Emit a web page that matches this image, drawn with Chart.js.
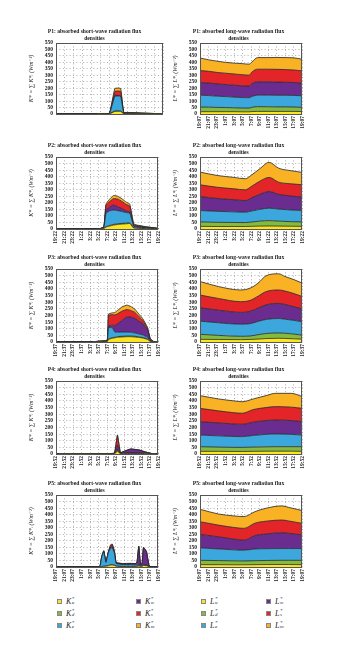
<!DOCTYPE html>
<html>
<head>
<meta charset="utf-8">
<script src="https://cdn.jsdelivr.net/npm/chart.js@4.4.1/dist/chart.umd.min.js"></script>
<style>
  body { margin: 0; background: #fff; width: 339px; height: 660px; position: relative; overflow: hidden; font-family: "Liberation Serif", serif; }
  canvas.panel { position: absolute; }
  .item { position: absolute; height: 10px; display: flex; align-items: center; font-size: 8px; color: #222; white-space: nowrap; }
  .swatch { width: 3px; height: 3px; border: 1px solid #888; margin-right: 4px; }
  .item i { font-style: italic; }
  .ss { display: inline-flex; flex-direction: column; font-size: 5px; line-height: 4.5px; margin-left: 0.5px; font-style: italic; }
</style>
</head>
<body>
<script>
// tick labels: every two hours over one day, minutes differ per profile
const tickHours = [19, 21, 23, 1, 3, 5, 7, 9, 11, 13, 15, 17, 19];
const rowMinutes = ["07", "22", "37", "52", "07"];

// layer order from bottom: u, d, e, w, s, m
const layerKeys = ["u", "d", "e", "w", "s", "m"];
const layerColors = ["#fbe422", "#84bb3e", "#3ca7dd", "#6a2c8e", "#e3252a", "#f8b224"];

// P1 short-wave K* (hours after 19:07)
const p1KHours = [0, 9, 10.5, 12, 13.2, 14.5, 15.2, 16.5, 19, 22, 24];
const p1Ku = [0, 0, 1, 1, 20, 20, 2, 2, 1, 1, 0];
const p1Kd = [0, 0, 0, 1, 3, 3, 1, 1, 1, 0, 0];
const p1Ke = [0, 0, 1, 2, 115, 113, 4, 3, 2, 1, 0];
const p1Kw = [0, 0, 1, 1, 5, 5, 3, 3, 2, 1, 0];
const p1Ks = [0, 0, 1, 1, 32, 34, 1, 1, 1, 1, 0];
const p1Km = [0, 0, 0, 0, 23, 23, 1, 1, 1, 0, 0];

// P2 short-wave K*
const p2KHours = [0, 9.8, 11.2, 11.7, 12.5, 13.5, 14.5, 15.5, 16.5, 17.3, 18.2, 19, 21, 24];
const p2Ku = [0, 0, 3, 15, 22, 30, 35, 38, 40, 42, 8, 5, 3, 1];
const p2Kd = [0, 0, 2, 3, 4, 5, 5, 5, 5, 5, 3, 3, 2, 0];
const p2Ke = [0, 0, 6, 100, 112, 110, 100, 90, 80, 75, 10, 8, 5, 2];
const p2Kw = [0, 0, 1, 26, 30, 38, 30, 22, 12, 8, 5, 4, 3, 1];
const p2Ks = [0, 0, 1, 35, 40, 50, 58, 55, 50, 45, 8, 6, 3, 1];
const p2Km = [0, 0, 2, 10, 17, 23, 22, 20, 18, 15, 6, 4, 2, 0];

// P3 short-wave K*
const p3KHours = [0, 8.4, 10, 12, 12.3, 13.2, 13.8, 14.5, 15.5, 16.6, 17.5, 18.5, 19.5, 20.3, 21.4, 22.1, 22.8, 24];
const p3Ku = [0, 0, 1, 2, 20, 28, 32, 36, 38, 40, 40, 38, 34, 30, 20, 4, 1, 0];
const p3Kd = [0, 0, 1, 1, 3, 4, 4, 5, 5, 5, 5, 5, 4, 4, 3, 1, 0, 0];
const p3Ke = [0, 0, 2, 5, 85, 75, 38, 33, 32, 30, 28, 25, 22, 20, 13, 5, 1, 0];
const p3Kw = [0, 0, 1, 3, 10, 20, 50, 65, 88, 115, 115, 110, 95, 85, 58, 10, 2, 0];
const p3Ks = [0, 0, 1, 2, 82, 80, 80, 75, 70, 55, 50, 45, 35, 25, 12, 3, 1, 0];
const p3Km = [0, 0, 1, 1, 10, 13, 18, 26, 32, 33, 30, 24, 18, 13, 8, 2, 0, 0];

// P4 short-wave K*
const p4KHours = [0, 12, 13.7, 14.4, 15.1, 16, 17.5, 19.5, 21, 22.5, 23.3, 24];
const p4Ku = [0, 1, 2, 20, 2, 3, 4, 4, 3, 1, 0, 0];
const p4Kd = [0, 0, 1, 3, 1, 1, 1, 1, 1, 0, 0, 0];
const p4Ke = [0, 1, 1, 8, 2, 2, 3, 2, 1, 1, 0, 0];
const p4Kw = [0, 1, 2, 35, 4, 14, 28, 22, 9, 1, 0, 0];
const p4Ks = [0, 0, 1, 72, 1, 1, 1, 1, 1, 0, 0, 0];
const p4Km = [0, 0, 0, 5, 0, 0, 1, 0, 0, 0, 0, 0];

// P5 short-wave K*
const p5KHours = [0, 10.2, 10.7, 11.2, 11.7, 12.3, 12.8, 13.2, 13.7, 14.1, 15.5, 17.5, 18.7, 19, 19.4, 19.8, 20.2, 20.5, 21.2, 21.8, 22.5, 24];
const p5Ku = [0, 0, 3, 5, 6, 10, 15, 15, 12, 6, 4, 4, 4, 5, 8, 4, 5, 12, 10, 2, 0, 0];
const p5Kd = [0, 0, 1, 1, 1, 2, 2, 2, 2, 1, 1, 1, 1, 1, 1, 1, 1, 2, 1, 0, 0, 0];
const p5Ke = [0, 0, 70, 110, 28, 100, 128, 130, 90, 20, 14, 14, 12, 10, 8, 5, 5, 5, 4, 2, 0, 0];
const p5Kw = [0, 0, 2, 3, 2, 3, 5, 6, 4, 3, 4, 5, 6, 20, 135, 8, 17, 125, 100, 5, 0, 0];
const p5Ks = [0, 0, 2, 4, 2, 4, 15, 17, 10, 4, 3, 3, 3, 3, 6, 1, 1, 4, 3, 1, 0, 0];
const p5Km = [0, 0, 2, 2, 1, 1, 5, 5, 2, 1, 1, 1, 1, 1, 2, 1, 1, 2, 2, 0, 0, 0];

// P1 long-wave L*
const p1LHours = [0, 2, 4, 6, 8, 10, 11.5, 12.2, 13.5, 16, 18, 20, 22, 24];
const p1Lu = [18, 18, 18, 18, 18, 17, 17, 19, 20, 20, 20, 20, 20, 19];
const p1Ld = [36, 35, 33, 32, 30, 29, 29, 33, 37, 36, 35, 35, 34, 32];
const p1Le = [92, 90, 87, 85, 83, 81, 80, 84, 89, 90, 90, 90, 90, 90];
const p1Lw = [98, 97, 95, 93, 92, 91, 90, 100, 103, 103, 102, 101, 100, 98];
const p1Ls = [93, 91, 89, 88, 87, 86, 85, 90, 98, 98, 99, 98, 97, 95];
const p1Lm = [97, 89, 87, 84, 84, 86, 85, 78, 90, 90, 92, 93, 94, 90];

// P2 long-wave L*
const p2LHours = [0, 4, 8, 10.6, 12, 14, 16.2, 18.4, 21.4, 24];
const p2Lu = [20, 19, 19, 19, 20, 22, 23, 22, 21, 20];
const p2Ld = [34, 32, 31, 30, 33, 38, 41, 38, 35, 34];
const p2Le = [87, 84, 81, 79, 84, 90, 95, 92, 89, 87];
const p2Lw = [107, 98, 93, 89, 99, 115, 127, 113, 107, 102];
const p2Ls = [90, 86, 83, 82, 88, 100, 108, 93, 93, 95];
const p2Lm = [97, 90, 87, 85, 86, 95, 115, 107, 100, 94];

// P3 long-wave L*
const p3LHours = [0, 4.3, 9.5, 11.7, 13.6, 15.5, 18.4, 19.9, 22, 24];
const p3Lu = [20, 19, 18, 19, 22, 26, 28, 27, 24, 21];
const p3Ld = [38, 31, 25, 26, 33, 38, 40, 39, 36, 30];
const p3Le = [99, 95, 91, 93, 100, 106, 109, 106, 103, 101];
const p3Lw = [101, 95, 89, 92, 100, 110, 114, 111, 103, 96];
const p3Ls = [96, 88, 81, 83, 90, 100, 101, 101, 99, 94];
const p3Lm = [102, 90, 88, 92, 98, 119, 122, 110, 105, 101];

// P4 long-wave L*
const p4LHours = [0, 4.3, 8, 9.9, 12.5, 15.5, 17.7, 21.4, 24];
const p4Lu = [20, 20, 19, 19, 20, 21, 21, 21, 20];
const p4Ld = [35, 32, 31, 31, 32, 33, 34, 34, 35];
const p4Le = [88, 85, 82, 81, 88, 94, 96, 93, 88];
const p4Lw = [101, 97, 94, 93, 100, 104, 105, 104, 101];
const p4Ls = [100, 91, 85, 83, 95, 98, 101, 101, 100];
const p4Lm = [96, 90, 89, 87, 80, 90, 100, 104, 88];

// P5 long-wave L*
const p5LHours = [0, 4.3, 8, 10.3, 12.9, 15.5, 19.2, 20.7, 24];
const p5Lu = [18, 18, 17, 17, 18, 19, 19, 19, 18];
const p5Ld = [33, 31, 30, 29, 30, 31, 32, 32, 33];
const p5Le = [95, 89, 84, 82, 90, 90, 90, 90, 90];
const p5Lw = [103, 93, 82, 77, 102, 112, 121, 117, 103];
const p5Ls = [97, 89, 89, 90, 95, 98, 97, 94, 89];
const p5Lm = [95, 85, 88, 90, 88, 99, 108, 104, 98];

const yTicks = { min: 0, max: 550, step: 50 };

// panel geometry
const plotTops = [43, 157, 269, 381, 495];
const plotHeights = [71, 72, 73, 73, 72];
const colLeft = [26, 170];
const titleH = 15;
const xAxisH = 18;
const yAxisW = 30;
const panelW = 141;

const FONT = "'Liberation Serif', 'DejaVu Serif', serif";

const panels = [
  { row: 0, col: 0, kind: "short", hours: p1KHours, layers: [p1Ku, p1Kd, p1Ke, p1Kw, p1Ks, p1Km], showX: false },
  { row: 0, col: 1, kind: "long", hours: p1LHours, layers: [p1Lu, p1Ld, p1Le, p1Lw, p1Ls, p1Lm], showX: true },
  { row: 1, col: 0, kind: "short", hours: p2KHours, layers: [p2Ku, p2Kd, p2Ke, p2Kw, p2Ks, p2Km], showX: true },
  { row: 1, col: 1, kind: "long", hours: p2LHours, layers: [p2Lu, p2Ld, p2Le, p2Lw, p2Ls, p2Lm], showX: true },
  { row: 2, col: 0, kind: "short", hours: p3KHours, layers: [p3Ku, p3Kd, p3Ke, p3Kw, p3Ks, p3Km], showX: true },
  { row: 2, col: 1, kind: "long", hours: p3LHours, layers: [p3Lu, p3Ld, p3Le, p3Lw, p3Ls, p3Lm], showX: true },
  { row: 3, col: 0, kind: "short", hours: p4KHours, layers: [p4Ku, p4Kd, p4Ke, p4Kw, p4Ks, p4Km], showX: true },
  { row: 3, col: 1, kind: "long", hours: p4LHours, layers: [p4Lu, p4Ld, p4Le, p4Lw, p4Ls, p4Lm], showX: true },
  { row: 4, col: 0, kind: "short", hours: p5KHours, layers: [p5Ku, p5Kd, p5Ke, p5Kw, p5Ks, p5Km], showX: true },
  { row: 4, col: 1, kind: "long", hours: p5LHours, layers: [p5Lu, p5Ld, p5Le, p5Lw, p5Ls, p5Lm], showX: true },
];

// solid box around the plot area
const framePlugin = {
  id: "frame",
  afterDatasetsDraw(chart) {
    const { ctx, chartArea: a } = chart;
    ctx.save();
    ctx.strokeStyle = "#555";
    ctx.lineWidth = 1;
    ctx.strokeRect(Math.round(a.left) + 0.5, Math.round(a.top) + 0.5,
      Math.round(a.right - a.left) - 1, Math.round(a.bottom - a.top));
    ctx.restore();
  },
};

const buildPanel = (p) => {
  const canvas = document.createElement("canvas");
  canvas.className = "panel";
  const h = titleH + plotHeights[p.row] + xAxisH;
  canvas.width = panelW;
  canvas.height = h;
  canvas.style.left = colLeft[p.col] + "px";
  canvas.style.top = plotTops[p.row] - titleH + "px";
  document.body.appendChild(canvas);

  const n = p.row + 1;
  const isShort = p.kind === "short";
  const title = isShort
    ? [`P${n}: absorbed short-wave radiation flux`, "densities"]
    : [`P${n}: absorbed long-wave radiation flux`, "densities"];
  const sym = isShort ? "K" : "L";
  const tickLabels = tickHours.map((hr) => `${hr}:${rowMinutes[p.row]}`);

  const datasets = p.layers.map((vals, i) => ({
    label: sym + layerKeys[i],
    data: p.hours.map((t, k) => ({ x: t, y: vals[k] })),
    backgroundColor: layerColors[i],
    borderColor: "#262626",
    borderWidth: 0.8,
    pointRadius: 0,
    fill: i === 0 ? "origin" : "-1",
    tension: isShort ? 0.1 : 0.35,
    cubicInterpolationMode: isShort ? "default" : "monotone",
  }));

  new Chart(canvas.getContext("2d"), {
    type: "line",
    data: { datasets },
    plugins: [framePlugin],
    options: {
      responsive: false,
      animation: false,
      events: [],
      layout: { padding: { left: 0, right: 4, top: 0, bottom: 0 } },
      plugins: {
        legend: { display: false },
        tooltip: { enabled: false },
        title: {
          display: true,
          text: title,
          color: "#222",
          font: { family: FONT, size: 5.6, weight: "bold", lineHeight: 1.25 },
          padding: { top: 0, bottom: 1 },
        },
      },
      scales: {
        x: {
          type: "linear",
          min: 0,
          max: 24,
          afterFit: (s) => { s.height = xAxisH; },
          grid: { color: "#9a9a9a", lineWidth: 0.8, drawTicks: false },
          border: { display: false, dash: [1, 2.4] },
          ticks: {
            display: p.showX,
            stepSize: 2,
            autoSkip: false,
            maxRotation: 90,
            minRotation: 90,
            padding: 2,
            color: "#222",
            font: { family: FONT, size: 5.5, weight: "bold" },
            callback: (v) => tickLabels[Math.round(v / 2)],
          },
        },
        y: {
          stacked: true,
          min: yTicks.min,
          max: yTicks.max,
          afterFit: (s) => { s.width = yAxisW; },
          grid: { color: "#9a9a9a", lineWidth: 0.8, drawTicks: false },
          border: { display: false, dash: [1, 2.4] },
          ticks: {
            stepSize: yTicks.step,
            autoSkip: false,
            padding: 3,
            color: "#222",
            font: { family: FONT, size: 5.5, weight: "bold", lineHeight: 1 },
          },
          title: {
            display: true,
            text: `${sym}* = \u2211 ${sym}*\u1d62 (Wm\u207b\u00b2)`,
            color: "#222",
            font: { family: FONT, size: 6, style: "italic" },
            padding: { top: 2, bottom: 0 },
          },
        },
      },
    },
  });
};

panels.forEach(buildPanel);

// legend: K* items on the left half, L* items on the right half
const legendCols = [57, 136, 201, 266];
const legendRows = [601, 613, 625];
const addLegendItem = (sym, i) => {
  const col = (sym === "K" ? 0 : 2) + Math.floor(i / 3);
  const div = document.createElement("div");
  div.className = "item";
  div.style.left = legendCols[col] + "px";
  div.style.top = legendRows[i % 3] - 5 + "px";
  div.innerHTML = `<span class="swatch" style="background:${layerColors[i]}"></span>` +
    `<i>${sym}</i><span class="ss"><span>*</span><span>${layerKeys[i]}</span></span>`;
  document.body.appendChild(div);
};
layerKeys.forEach((k, i) => addLegendItem("K", i));
layerKeys.forEach((k, i) => addLegendItem("L", i));
</script>
</body>
</html>
